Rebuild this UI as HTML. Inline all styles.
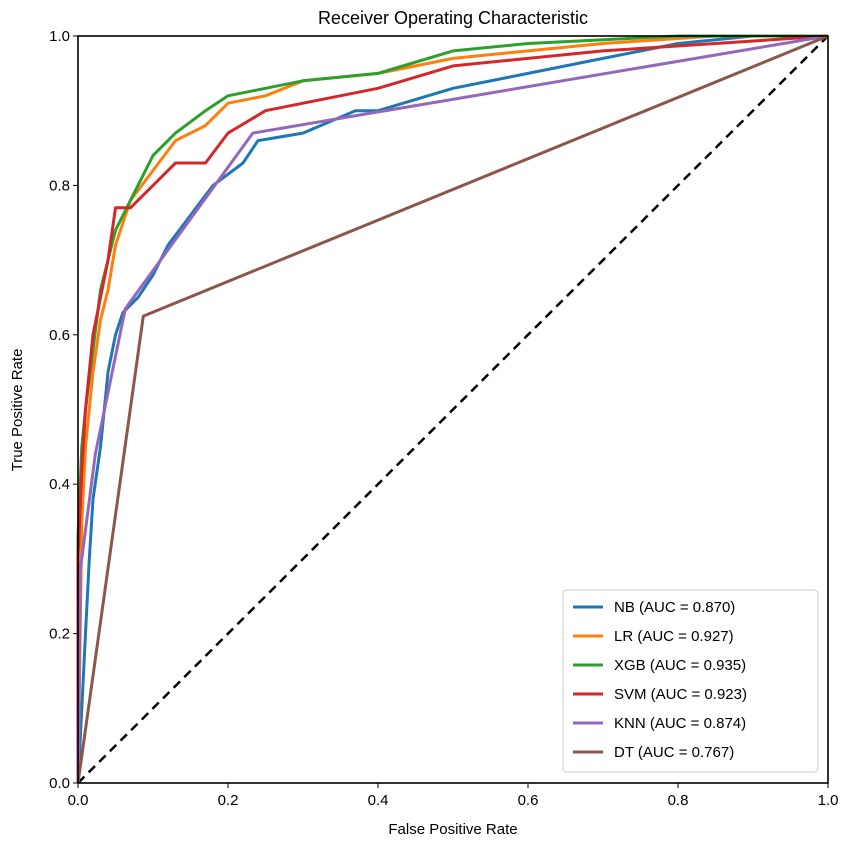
<!DOCTYPE html>
<html><head><meta charset="utf-8"><style>
html,body{margin:0;padding:0;background:#fff;}
svg{display:block;font-family:"Liberation Sans","DejaVu Sans",sans-serif;}
</style></head><body>
<svg id="chart" width="851" height="847" viewBox="0 0 851 847" xmlns="http://www.w3.org/2000/svg">
<rect width="851" height="847" fill="#fff"/>
<g id="plot"></g>
<rect x="78" y="36" width="750" height="747" fill="none" stroke="#000" stroke-width="1.6"/>
<text x="453" y="24" font-size="18" text-anchor="middle">Receiver Operating Characteristic</text>
<text x="453" y="834" font-size="15" text-anchor="middle">False Positive Rate</text>
<text transform="translate(22,410) rotate(-90)" font-size="15" text-anchor="middle">True Positive Rate</text>
<g id="legend"></g>
</svg>
<script>
const ticks=[0,0.2,0.4,0.6,0.8,1.0];
const tickLabels=["0.0","0.2","0.4","0.6","0.8","1.0"];
const seriesNames=["NB (AUC = 0.870)","LR (AUC = 0.927)","XGB (AUC = 0.935)","SVM (AUC = 0.923)","KNN (AUC = 0.874)","DT (AUC = 0.767)"];
const nbFpr=[0,0.005,0.01,0.015,0.02,0.03,0.035,0.04,0.05,0.06,0.08,0.1,0.12,0.15,0.18,0.22,0.24,0.3,0.37,0.4,0.5,0.6,0.7,0.8,0.9,1];
const nbTpr=[0,0.1,0.2,0.3,0.38,0.45,0.5,0.55,0.6,0.63,0.65,0.68,0.72,0.76,0.8,0.83,0.86,0.87,0.9,0.9,0.93,0.95,0.97,0.99,1,1];
const lrFpr=[0,0.005,0.01,0.02,0.03,0.04,0.05,0.07,0.1,0.13,0.17,0.2,0.25,0.3,0.4,0.5,0.6,0.7,0.85,1];
const lrTpr=[0,0.35,0.45,0.55,0.62,0.66,0.72,0.78,0.82,0.86,0.88,0.91,0.92,0.94,0.95,0.97,0.98,0.99,1,1];
const xgbFpr=[0,0,0.005,0.01,0.02,0.03,0.05,0.07,0.1,0.13,0.17,0.2,0.3,0.4,0.5,0.6,0.8,1];
const xgbTpr=[0,0.33,0.45,0.5,0.58,0.66,0.74,0.78,0.84,0.87,0.9,0.92,0.94,0.95,0.98,0.99,1,1];
const svmFpr=[0,0,0.005,0.01,0.02,0.03,0.04,0.05,0.07,0.1,0.13,0.17,0.2,0.25,0.3,0.4,0.5,0.6,0.7,0.85,1];
const svmTpr=[0,0.3,0.42,0.5,0.6,0.65,0.7,0.77,0.77,0.8,0.83,0.83,0.87,0.9,0.91,0.93,0.96,0.97,0.98,0.99,1];
const knnFpr=[0,0.003,0.023,0.063,0.233,1];
const knnTpr=[0,0.285,0.44,0.635,0.87,1];
const dtFpr=[0,0.087,1];
const dtTpr=[0,0.625,1];
const colors=["#1f77b4","#ff7f0e","#2ca02c","#d62728","#9467bd","#8c564b"];
const seriesKeys=["nb","lr","xgb","svm","knn","dt"];

const NS="http://www.w3.org/2000/svg";
const X0=78,X1=828,Y0=783,Y1=36;
function sx(v){return X0+v*(X1-X0);}
function sy(v){return Y0-v*(Y0-Y1);}
const plot=document.getElementById('plot');
const svg=document.getElementById('chart');
ticks.forEach((t,i)=>{
  const lx=document.createElementNS(NS,'line');
  lx.setAttribute('x1',sx(t));lx.setAttribute('x2',sx(t));lx.setAttribute('y1',Y0);lx.setAttribute('y2',Y0+5);lx.setAttribute('stroke','#000');
  
  
  svg.appendChild(lx);
  const tx=document.createElementNS(NS,'text');
  tx.setAttribute('x',sx(t));tx.setAttribute('y',Y0+22);tx.setAttribute('font-size','15');tx.setAttribute('text-anchor','middle');
  tx.textContent=tickLabels[i];
  
  
  svg.appendChild(tx);
  const ly=document.createElementNS(NS,'line');
  ly.setAttribute('x1',X0-5);ly.setAttribute('x2',X0);ly.setAttribute('y1',sy(t));ly.setAttribute('y2',sy(t));ly.setAttribute('stroke','#000');
  
  
  svg.appendChild(ly);
  const ty=document.createElementNS(NS,'text');
  ty.setAttribute('x',X0-8);ty.setAttribute('y',sy(t)+5);ty.setAttribute('font-size','15');ty.setAttribute('text-anchor','end');
  ty.textContent=tickLabels[i];
  
  
  svg.appendChild(ty);
});
const diag=document.createElementNS(NS,'line');
diag.setAttribute('x1',sx(0));diag.setAttribute('y1',sy(0));diag.setAttribute('x2',sx(1));diag.setAttribute('y2',sy(1));
diag.setAttribute('stroke','#000');diag.setAttribute('stroke-width','2.5');diag.setAttribute('stroke-dasharray','9,6');


plot.appendChild(diag);
const data=[[nbFpr,nbTpr],[lrFpr,lrTpr],[xgbFpr,xgbTpr],[svmFpr,svmTpr],[knnFpr,knnTpr],[dtFpr,dtTpr]];
data.forEach((d,i)=>{
  const p=document.createElementNS(NS,'polyline');
  p.setAttribute('points',d[0].map((f,j)=>sx(f).toFixed(1)+','+sy(d[1][j]).toFixed(1)).join(' '));
  p.setAttribute('fill','none');p.setAttribute('stroke',colors[i]);p.setAttribute('stroke-width','3');p.setAttribute('stroke-linejoin','round');
  
  
  plot.appendChild(p);
});
const lg=document.getElementById('legend');
const box=document.createElementNS(NS,'rect');
box.setAttribute('x',563);box.setAttribute('y',590);box.setAttribute('width',255);box.setAttribute('height',182);box.setAttribute('rx',4);
box.setAttribute('fill','#fff');box.setAttribute('stroke','#ccc');


lg.appendChild(box);
seriesNames.forEach((n,i)=>{
  const y=607+i*29;
  const l=document.createElementNS(NS,'line');
  l.setAttribute('x1',573);l.setAttribute('x2',603);l.setAttribute('y1',y);l.setAttribute('y2',y);l.setAttribute('stroke',colors[i]);l.setAttribute('stroke-width','3');
  
  
  lg.appendChild(l);
  const t=document.createElementNS(NS,'text');
  t.setAttribute('x',614);t.setAttribute('y',y+5);t.setAttribute('font-size','15');
  t.textContent=n;
  
  
  lg.appendChild(t);
});
</script>
</body></html>
